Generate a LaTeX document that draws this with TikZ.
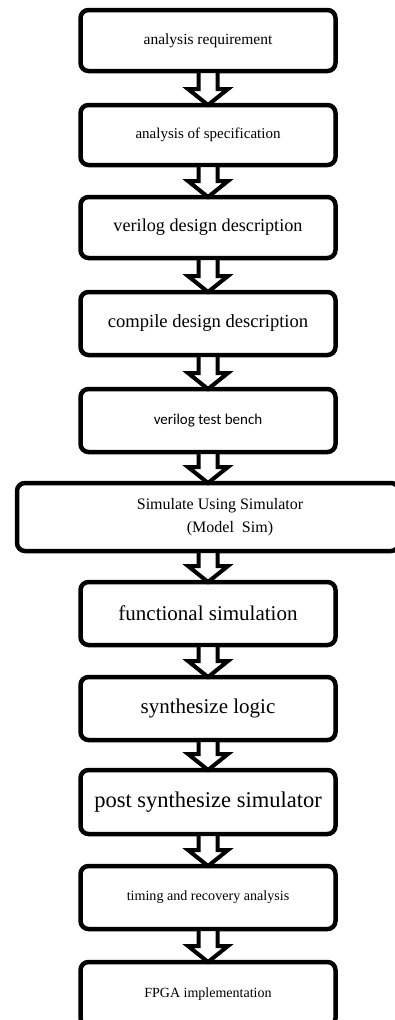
\documentclass[tikz,border=0pt]{standalone}
\usepackage{fontspec}
\setmainfont{Liberation Serif}
\newfontfamily\calibrifont{Carlito}
\usetikzlibrary{positioning,calc}

\begin{document}
\begin{tikzpicture}[x=1pt,y=-1pt,
  step node/.style={draw,rounded corners=8pt,line width=4.5pt,minimum width=255pt,
    outer sep=0pt,inner sep=2pt,align=center},
  block arrow/.style={draw,fill=white,line width=4pt,line join=miter,to path={
    ($(\tikztostart)+(-9.5pt,0)$) -- ($(\tikztotarget)+(-9.5pt,16pt)$)
    -- ($(\tikztotarget)+(-20pt,16pt)$) -- (\tikztotarget)
    -- ($(\tikztotarget)+(20pt,16pt)$) -- ($(\tikztotarget)+(9.5pt,16pt)$)
    -- ($(\tikztostart)+(9.5pt,0)$) -- cycle}}]

  \useasboundingbox (0,0) rectangle (395,1020);

  \node[step node,minimum height=61pt,font=\fontsize{15.5}{18}\selectfont] (b1) at (208,40.5) {analysis requirement};
  \node[step node,minimum height=60pt,font=\fontsize{15}{18}\selectfont] (b2) [below=34pt of b1] {analysis of specification};
  \node[step node,minimum height=61pt,font=\fontsize{18.2}{22}\selectfont] (b3) [below=32pt of b2] {verilog design description};
  \node[step node,minimum height=63pt,font=\fontsize{18.6}{22}\selectfont] (b4) [below=34pt of b3] {compile design description};
  \node[step node,minimum height=63pt,font=\calibrifont\fontsize{15}{18}\selectfont] (b5) [below=34pt of b4] {verilog test bench};
  \node[step node,minimum height=68pt,minimum width=382pt,font=\fontsize{16}{23}\selectfont] (b6) [below=31pt of b5]
    {\hspace*{24pt}Simulate Using Simulator\\\hspace*{44pt}(Model\ \ Sim)};
  \node[step node,minimum height=63pt,font=\fontsize{21}{24}\selectfont] (b7) [below=31pt of b6] {functional simulation};
  \node[step node,minimum height=63pt,font=\fontsize{21}{24}\selectfont] (b8) [below=32pt of b7] {synthesize logic};
  \node[step node,minimum height=64pt,font=\fontsize{22.5}{26}\selectfont] (b9) [below=30pt of b8] {post synthesize simulator};
  \node[step node,minimum height=63pt,font=\fontsize{14.1}{17}\selectfont] (b10) [below=32pt of b9] {timing and recovery analysis};
  \node[step node,minimum height=64pt,font=\fontsize{14}{17}\selectfont] (b11) [below=33pt of b10] {FPGA implementation};

  \path
    (b1.south) edge[block arrow] (b2.north)
    (b2.south) edge[block arrow] (b3.north)
    (b3.south) edge[block arrow] (b4.north)
    (b4.south) edge[block arrow] (b5.north)
    (b5.south) edge[block arrow] (b6.north)
    (b6.south) edge[block arrow] (b7.north)
    (b7.south) edge[block arrow] (b8.north)
    (b8.south) edge[block arrow] (b9.north)
    (b9.south) edge[block arrow] (b10.north)
    (b10.south) edge[block arrow] (b11.north);
\end{tikzpicture}
\end{document}
